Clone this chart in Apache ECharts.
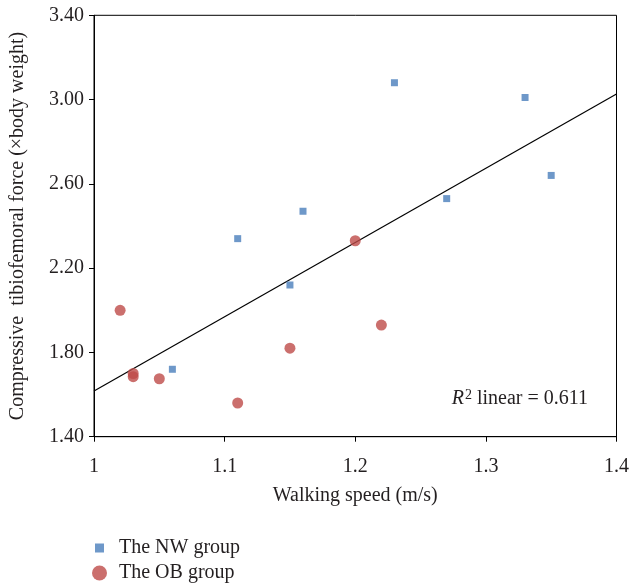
<!DOCTYPE html>
<html>
<head>
<meta charset="utf-8">
<script src="https://cdn.jsdelivr.net/npm/echarts@6/dist/echarts.min.js"></script>
<style>html,body{margin:0;padding:0;background:#fff}#c{width:632px;height:588px}</style>
</head>
<body>
<div id="c"></div>
<script>
// Data
const nwSpeed = [1.06, 1.11, 1.15, 1.16, 1.23, 1.27, 1.33, 1.35];
const nwForce = [1.72, 2.34, 2.12, 2.47, 3.08, 2.53, 3.01, 2.64];
const obSpeed = [1.02, 1.03, 1.03, 1.05, 1.11, 1.15, 1.20, 1.22];
const obForce = [2.00, 1.70, 1.685, 1.675, 1.56, 1.82, 2.33, 1.93];
const trendSpeed = [1.0, 1.4];
const trendForce = [1.617, 3.026];
const yTicks = [1.40, 1.80, 2.20, 2.60, 3.00, 3.40];
const xTicks = [1, 1.1, 1.2, 1.3, 1.4];
const seriesNames = ['The NW group', 'The OB group'];
const r2Value = '0.611';

const FONT = "'Liberation Serif', 'DejaVu Serif', serif";
const FS = 20;
const zip = (a, b) => a.map((v, i) => [v, b[i]]);

const chart = echarts.init(document.getElementById('c'), null, {renderer: 'canvas'});
chart.setOption({
  animation: false,
  backgroundColor: '#fff',
  textStyle: {fontFamily: FONT, color: '#231f20'},
  grid: {left: 92.7, top: 15.3, right: 15.3, bottom: 151.3, show: true, borderColor: '#000', borderWidth: 1, backgroundColor: 'transparent'},
  xAxis: {
    type: 'value', min: xTicks[0], max: xTicks[xTicks.length - 1], interval: 0.1,
    axisLine: {show: true, lineStyle: {color: '#000', width: 1}},
    axisTick: {show: true, inside: false, length: 5, lineStyle: {color: '#000'}},
    axisLabel: {fontFamily: FONT, fontSize: FS, color: '#231f20', margin: 20,
      formatter: v => String(Math.round(v * 10) / 10)},
    splitLine: {show: false},
    name: 'Walking speed (m/s)', nameLocation: 'middle', nameGap: 49,
    nameTextStyle: {fontFamily: FONT, fontSize: FS, color: '#231f20'}
  },
  yAxis: {
    type: 'value', min: yTicks[0], max: yTicks[yTicks.length - 1],
    axisLine: {show: true, lineStyle: {color: '#000', width: 1}},
    axisTick: {show: true, inside: false, length: 5, lineStyle: {color: '#000'}, customValues: yTicks},
    axisLabel: {fontFamily: FONT, fontSize: FS, color: '#231f20', margin: 10, customValues: yTicks,
      formatter: v => v.toFixed(2)},
    splitLine: {show: false},
    name: 'Compressive  tibiofemoral force (×body weight)', nameLocation: 'middle', nameGap: 66,
    nameTextStyle: {fontFamily: FONT, fontSize: FS, color: '#231f20'}
  },
  legend: [
    {data: [{name: seriesNames[0], icon: 'rect'}], orient: 'vertical', left: 95, top: 538, padding: 0,
     itemWidth: 9, itemHeight: 9, textStyle: {fontFamily: FONT, fontSize: FS, color: '#231f20', padding: [0, 0, 0, 10]}},
    {data: [{name: seriesNames[1], icon: 'circle'}], orient: 'vertical', left: 92, top: 563, padding: 0,
     itemWidth: 15, itemHeight: 15, textStyle: {fontFamily: FONT, fontSize: FS, color: '#231f20', padding: [0, 0, 0, 7]}}
  ],
  graphic: [{
    type: 'text', right: 44, top: 388,
    style: {
      text: '{i|R}{s|2} linear = ' + r2Value,
      font: FS + "px " + FONT, fill: '#231f20',
      rich: {
        i: {fontStyle: 'italic', fontFamily: FONT, fontSize: FS, fill: '#231f20'},
        s: {fontFamily: FONT, fontSize: 14, fill: '#231f20', verticalAlign: 'top', padding: [0, 0, 7, 1]}
      }
    }
  }],
  series: [
    {name: 'trend', type: 'line', data: zip(trendSpeed, trendForce), showSymbol: false, silent: true,
     lineStyle: {color: '#000', width: 1.2}, z: 1},
    {name: seriesNames[0], type: 'scatter', symbol: 'rect', symbolSize: 7, data: zip(nwSpeed, nwForce),
     itemStyle: {color: '#4a7ebb'}, z: 3},
    {name: seriesNames[1], type: 'scatter', symbol: 'circle', symbolSize: 11, data: zip(obSpeed, obForce),
     itemStyle: {color: '#be4b48'}, z: 2}
  ]
});
</script>
</body>
</html>
